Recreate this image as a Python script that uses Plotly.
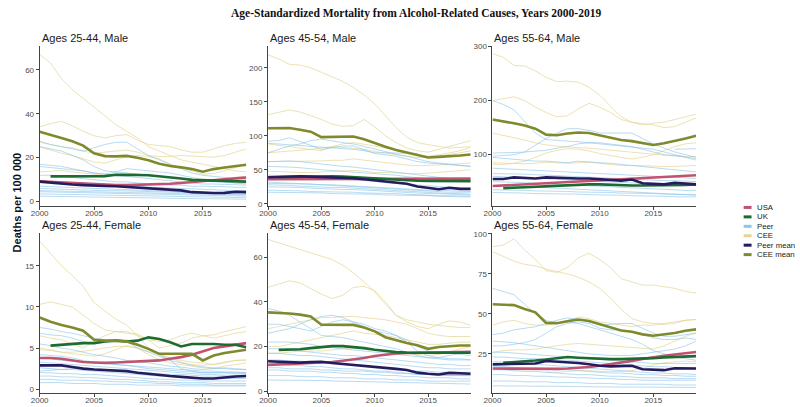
import plotly.graph_objects as go

years = list(range(2000, 2020))
N = None

# ---------------- Ages 25-44, Male ----------------
m2544_usa = [9.3,9.0,8.7,8.4,8.1,7.8,7.6,7.5,7.5,7.6,7.7,7.9,8.1,8.5,9.0,9.4,9.8,10.2,10.6,11.0]
m2544_uk = [N,11.5,11.5,11.6,11.4,11.3,11.6,12.2,12.3,12.1,12.0,11.6,11.1,10.5,9.9,9.8,9.7,9.5,9.3,9.1]
m2544_peer_mean = [9.1,8.6,8.2,7.8,7.5,7.2,7.1,7.0,6.7,6.4,6.0,5.7,5.4,5.1,4.3,4.0,3.9,4.0,4.5,4.3]
m2544_cee_mean = [31.8,30.5,29.0,27.5,25.5,22.0,20.7,20.6,20.8,20.0,18.8,17.2,16.2,15.6,14.8,13.6,14.8,15.5,16.2,16.8]
m2544_cee = [
    [67,63,56,51,47,43,39,35,32,29,25,23,21,19,18,17,16,15,14,13.5],
    [34,35.5,36.5,34.5,32,30,29,30,30.5,28,26,25.5,25,23.5,22.5,22.5,24,25.5,26.5,27],
    [27,26,25,24.5,23,22,22.5,23,23.5,22.5,21,20.5,20.5,21,20.8,20.5,20.2,21,22.5,24],
    [25,23.5,22,21,19.5,18,17.5,19,20.5,21,20.5,19.5,17,15.5,14,12.5,12.8,14,15.5,17],
    [13.5,14,14.2,13.5,13,12.5,12,12.5,13,12.5,12,11.5,11,10.5,10,9.5,9.3,10,11,11.5],
]
m2544_peer = [
    [27.5,26,25,24,23,24.5,26,27,27,24,21,19,17,15,13,12,11.5,11,10.5,10],
    [25,24,23,21,19,16,14,13.5,13,12.5,12,11.5,11,10.5,10,9.5,9,9,8.5,8.5],
    [17,16.5,16,15,14,13,12.5,13.5,15,14.5,14,13.5,13,12,11,10,9.5,9,8.5,8],
    [16,15.5,15,14.5,14,13,12.5,12,11.5,11,10.5,10,9.5,9,8.5,8,8,7.8,7.5,7.5],
    [12,12,11.5,11,10.5,10,9.5,9,9,8.5,8,8,7.5,7.5,7,7,7,6.8,6.5,6.5],
    [9,8.8,8.5,8.2,8,7.8,7.5,7.3,7,6.8,6.5,6.3,6,5.8,5.5,5.3,5.2,5,5,5],
    [6,5.8,5.7,5.5,5.3,5.2,5,5,4.8,4.7,4.5,4.4,4.3,4.2,4,3.9,3.8,3.7,3.6,3.5],
    [5,4.9,4.8,4.7,4.6,4.5,4.4,4.3,4.2,4.1,4,3.9,3.8,3.7,3.5,3.4,3.3,3.2,3.1,3],
    [4.5,4.4,4.3,4.2,4.1,4,3.9,3.8,3.7,3.5,3.4,3.3,3.2,3,2.9,2.8,2.7,2.6,2.5,2.5],
    [3.5,3.4,3.3,3.2,3.1,3,2.9,2.8,2.7,2.6,2.5,2.4,2.3,2.2,2.1,2,2,1.9,1.8,1.8],
    [7,6.8,6.5,6.3,6,5.8,5.6,5.4,5.2,5,4.8,4.6,4.4,4.2,4,3.8,3.6,3.5,3.4,3.3],
    [2.5,2.4,2.3,2.3,2.2,2.1,2,2,1.9,1.8,1.7,1.6,1.5,1.5,1.4,1.3,1.3,1.2,1.2,1.1],
]

# ---------------- Ages 45-54, Male ----------------
m4554_usa = [36,36,36,36.2,36.4,36.5,36.6,36.7,36.8,36.8,36.9,37,37,37,37,37,37,37,37,37]
m4554_uk = [N,39,39.5,40,40,40,40.5,40,39,38,37,36,35,34.5,34,33.5,33.5,33.5,33.3,33.3]
m4554_peer_mean = [39,39.5,41,40.5,40,39.5,39,38.5,37.5,36,34.5,32.5,30.5,29.5,25.5,23.5,21.5,23.5,22,22]
m4554_cee_mean = [111,111,111.5,109,106,98,98.5,99.5,99,95,89,84,79,75,71,68,69,69.5,71,72.5]
m4554_cee = [
    [219,213,205,204,200,193,186,180,171,160,147,130,112,98,90,87,84,82,83,84],
    [131,134,138,135,130,124,117,114,115,124,113,100,90,82,78,76,80,84,88,93],
    [88,86,84,83,80,78,84,88,90,88,85,82,78,75,72,70,72,75,78,83],
    [75,76,78,79,80,82,84,83,82,80,77,74,72,70,68,68,70,72,75,78],
    [62,62,63,63,62,63,64,64,66,64,62,60,58,57,56,56,57,58,59,60],
    [48,47,47,46,46,47,48,48,49,48,46,46,45,44,44,45,46,48,49,50],
]
m4554_peer = [
    [92,93,97,92,86,80,82,85,85,80,74,72,70,66,62,60,59,57,56,55],
    [75,80,85,88,93,95,92,90,88,84,80,76,73,70,66,62,60,58,56,55],
    [89,88,86,85,84,84,83,82,80,78,75,75,75,75,74,N,N,N,N,N],
    [62,63,63,62,60,58,56,55,54,52,50,48,46,44,42,40,38,37,36,35],
    [55,55,54,53,51,50,49,48,47,46,45,44,42,40,38,36,35,34,33,33],
    [32,31,30,30,29,28,28,27,27,26,25,24,23,22,21,20,20,19,19,18],
    [28,28,27,26,25,25,24,24,23,22,21,20,19,18,17,16,16,15,15,14],
    [25,25,24,24,23,22,22,21,21,20,19,18,18,17,16,15,15,14,14,13],
    [20,20,19,19,18,18,18,17,17,16,16,15,15,14,13,13,12,12,12,11],
    [17,17,17,16,16,16,15,15,15,14,14,13,13,12,12,12,11,11,11,10],
    [30,30,30,29,29,28,27,26,25,24,23,22,21,20,19,18,18,17,17,17],
    [42,42,41,41,40,39,38,37,36,34,33,31,30,28,27,26,25,24,23,22],
]

# ---------------- Ages 55-64, Male ----------------
m5564_usa = [42,43,44,45,46,47,48,49,50,51,52,53,55,56,57,58,59,60,61,62]
m5564_uk = [N,38,39,40,41,42,43,44,45,45,45,44,43,43,43,43,44,44,44,45]
m5564_peer_mean = [55,55,58,57,56,58,57,56,56,56,55,53,52,54,47,46,45,48,46,45]
m5564_cee_mean = [165,162,158,154,148,137,136,139,141,140,136,131,127,125,121,118,121,125,130,135]
m5564_cee = [
    [287,280,265,264,255,243,235,236,234,225,210,190,170,160,155,158,160,165,170,175],
    [200,203,207,200,188,178,170,172,185,195,188,178,165,160,158,155,150,152,160,168],
    [140,136,132,127,122,118,116,114,113,112,110,108,106,104,102,100,99,98,97,96],
    [82,82,84,88,95,103,108,111,110,107,102,98,95,92,95,100,108,115,120,122],
    [85,84,83,83,84,86,85,84,85,86,84,82,80,80,80,79,78,78,79,80],
]
m5564_peer = [
    [200,193,183,162,140,128,126,125,124,122,120,118,116,114,112,110,105,100,95,90],
    [97,98,100,105,118,130,140,148,148,145,140,140,140,140,130,120,112,105,100,95],
    [103,103,104,105,106,108,112,115,120,122,122,120,118,115,110,105,100,98,95,93],
    [95,93,91,89,88,88,86,85,88,86,85,84,82,80,78,77,75,72,70,68],
    [75,74,73,72,71,70,69,69,68,67,66,65,64,63,62,61,60,58,57,56],
    [60,59,58,57,56,55,54,53,52,51,50,49,48,47,46,45,44,44,43,43],
    [50,50,49,48,47,46,45,44,43,42,41,40,39,38,37,36,35,35,34,34],
    [42,42,41,40,40,39,38,37,36,35,34,33,32,31,30,29,28,27,26,25],
    [30,30,29,29,28,28,27,27,27,26,26,25,25,24,24,23,23,22,22,22],
    [35,35,34,34,33,33,32,32,31,31,30,30,29,29,28,28,27,27,26,26],
    [65,65,64,64,63,62,61,60,60,59,58,57,56,55,54,53,52,52,51,50],
    [N,N,N,N,N,N,N,N,N,N,N,N,N,N,N,N,N,110,110,111],
]

# ---------------- Ages 25-44, Female ----------------
f2544_usa = [3.8,3.8,3.7,3.5,3.3,3.25,3.2,3.25,3.3,3.35,3.4,3.5,3.7,3.9,4.2,4.6,5.0,5.2,5.4,5.6]
f2544_uk = [N,5.3,5.4,5.5,5.6,5.6,5.8,5.9,5.8,5.9,6.3,6.1,5.7,5.2,5.5,5.5,5.5,5.4,5.4,5.1]
f2544_peer_mean = [2.9,2.9,2.9,2.7,2.5,2.4,2.35,2.3,2.2,2.0,1.85,1.7,1.6,1.5,1.4,1.3,1.3,1.45,1.55,1.6]
f2544_cee_mean = [8.7,8.2,7.8,7.5,7.1,6.0,5.9,5.9,5.8,5.4,4.9,4.3,4.3,4.3,4.3,3.5,4.1,4.4,4.6,4.8]
f2544_cee = [
    [18,16.5,15,13.8,12.5,10.5,9.5,8.5,7.8,6.5,5,4.2,3.8,3.5,3.3,3.2,3,3.2,3.5,3.6],
    [10.3,10.6,10.3,10,9,8,7.2,7,6.8,6.7,6,5,5.3,5.6,6.2,6.5,6.6,7,7.3,7.6],
    [6.5,6.2,6,5.5,5,5.8,6.5,7,7,6.5,6,5.8,6,6.5,6.8,6.5,6.2,6.5,6.8,7],
    [4.8,4.7,4.5,4.5,4.6,4.8,5,5.2,5.2,5,4.6,4.2,3.8,3.3,3,2.9,3,3.3,3.5,3.5],
    [5,4.8,4.5,4.3,4.2,4,4.3,4.8,5.3,5,4.2,3.6,3.2,3,2.8,2.6,2.5,2.8,3,3.2],
]
f2544_peer = [
    [7.5,7.3,7,6.8,6.5,6.2,6,5.9,5.8,5,4.5,4,3.5,3.2,2.9,2.7,2.6,2.5,2.4,2.4],
    [6.8,6.6,6.5,6.2,5.8,5.5,5.7,6,6,5.5,4.8,4.2,3.5,2.5,2.2,2,2,2,1.9,1.9],
    [5.5,5.3,5,4.8,4.5,4.2,4,3.8,3.5,3.3,3.2,3,2.8,2.7,2.5,2.4,2.5,2.6,2.5,2.4],
    [4.2,4.1,4,3.8,3.5,3.3,3.2,3,2.9,2.7,2.5,2.4,2.3,2.2,2.1,2,2,2,2,2],
    [3.3,3.2,3.1,3,2.9,2.8,2.7,2.6,2.5,2.4,2.3,2.2,2.1,2,1.9,1.8,1.8,1.7,1.7,1.7],
    [2.6,2.5,2.4,2.4,2.3,2.2,2.1,2,1.9,1.8,1.7,1.6,1.5,1.5,1.4,1.4,1.3,1.3,1.3,1.3],
    [2,2,1.9,1.9,1.8,1.8,1.7,1.6,1.5,1.4,1.3,1.2,1.2,1.1,1.1,1,1,1,1,1],
    [1.6,1.6,1.5,1.5,1.4,1.4,1.3,1.2,1.2,1.1,1,0.9,0.9,0.8,0.8,0.8,0.7,0.7,0.7,0.7],
    [1.2,1.2,1.1,1.1,1.1,1,1,0.9,0.9,0.8,0.8,0.7,0.7,0.6,0.6,0.6,0.5,0.5,0.5,0.5],
    [0.8,0.8,0.8,0.7,0.7,0.7,0.6,0.6,0.6,0.5,0.5,0.5,0.5,0.4,0.4,0.4,0.4,0.4,0.4,0.4],
    [2.2,2.3,2.4,2.5,2.6,2.5,2.4,2.3,2.2,2.1,2,1.9,1.8,1.8,1.7,1.6,1.6,1.6,1.5,1.5],
    [3.8,3.7,3.5,3.4,3.3,3.2,3.1,3,2.9,2.8,2.7,2.6,2.5,2.4,2.3,2.2,2.2,2.1,2.1,2],
]

# ---------------- Ages 45-54, Female ----------------
f4554_usa = [11.8,12.0,12.2,12.4,12.6,12.8,13.1,13.6,14.2,14.9,15.8,16.4,16.9,17.1,17.2,17.3,17.4,17.5,17.6,17.6]
f4554_uk = [N,18.5,18.5,18.8,19.3,19.8,20.2,20.2,19.9,19.3,18.6,18.0,17.5,17.3,17.3,17.3,17.2,17.2,17.2,17.2]
f4554_peer_mean = [13.4,13.2,13,12.8,13,13.2,12.6,12.2,11.9,11.4,10.8,10.4,10,9.5,8.3,7.8,7.5,8.2,8,7.8]
f4554_cee_mean = [35.3,35.1,34.8,34.3,33.5,29.8,29.7,29.7,29.7,28.5,26.8,24.2,22.8,21.6,20.6,19,19.8,20.3,20.5,20.5]
f4554_cee = [
    [68,66.5,65,63.5,62,60.5,59,56.5,53,49,44.5,39,34,32,31,30,29.5,29,28.5,28.5],
    [46.5,48,49.5,48.5,46,43.5,41.5,43,46.5,47,45,40,34,31,29,28,30,31.5,31,29.5],
    [28,29,30,31,32,33,33,33.5,33.5,33,32.5,32,31,30,28,26,25,24.5,24.5,24.5],
    [20,20,21,22,23,24,25,26,27,26,25.5,25,24,23,22,21,21,21.5,22,22],
    [17,17,17.5,18,18,18,18.5,19,19.5,19,18.5,18,17.5,17,16.5,16,16.5,17.5,19,20],
]
f4554_peer = [
    [37,36,34,31,28,25,24.5,24,23,22,21,20,19,17.5,16,15,14.5,14,14,14],
    [26,27,28,30,32,33.5,34,33,31,30,28,27,25,22,18,16,15,16,17,18],
    [30,30,29,28,27,29,31,32,31,29,27,26,25,23,20,18,17,17,16.5,16],
    [22,22,22,21.5,21,20,19.5,19,18.5,18,17.5,17,16.5,16,15.5,15,15,14.5,14.5,14],
    [17,17,16.5,16,16,15.5,15,14.5,14,13.5,13,12.5,12,11.5,11,10.5,10.5,10,10,10],
    [14,14,13.5,13.5,13,13,12.5,12,12,11.5,11,10.5,10,9.5,9,9,8.5,8.5,8.5,8.5],
    [12,12,11.5,11.5,11,11,10.5,10,10,9.5,9,9,8.5,8,7.5,7.5,7,7,7,7],
    [9.5,9.5,9,9,9,8.5,8.5,8,8,7.5,7.5,7,7,6.5,6.5,6,6,6,5.5,5.5],
    [7,7,7,6.5,6.5,6.5,6,6,6,5.5,5.5,5.5,5,5,5,4.5,4.5,4.5,4.5,4.5],
    [5,5,5,5,4.8,4.8,4.6,4.5,4.4,4.2,4,4,3.8,3.6,3.5,3.4,3.3,3.2,3.2,3.2],
    [10.5,10.5,10,10,10,9.5,9.5,9,9,9,8.5,8.5,8,8,7.5,7.5,7.5,7,7,7],
    [19,19,18.5,18,17.5,17,16.5,16,16,15.5,15,14.5,14,13.5,13,12.5,12,12,11.5,11.5],
]

# ---------------- Ages 55-64, Female ----------------
f5564_usa = [15.8,15.7,15.6,15.5,15.5,15.5,15.6,15.8,16.2,16.8,17.6,18.5,19.5,20.6,21.8,23,23.8,24.6,25.4,26.2]
f5564_uk = [N,19.4,19.8,20.3,20.8,21.5,22.3,23,22.6,22.2,21.8,21.7,21.7,21.8,22,22.3,22.8,23.1,23.4,23.6]
f5564_peer_mean = [18.4,18.5,18.6,18.7,19,20.5,20.2,19.9,19.3,18.5,17.6,17.2,17.2,17.6,15.4,15,14.8,16,16.1,15.8]
f5564_cee_mean = [56,55.6,55.5,53,51,44.3,44.2,45.4,46.5,45.5,43.5,41.5,39.6,38.8,37.2,36.3,37,38,39.5,40.3]
f5564_cee = [
    [92,93,97,90,84,77,76,79,85,88,84,79,72,70,68,68,67,66,64,63],
    [89,86,83,81,80,78,76.5,75,73,70,66,60,53,47,45,44,44,45,46,46.5],
    [43,45,46,44,43,43,44,46,48,47,45,44,43,42,43,43,43.5,44,46,46.5],
    [26,27,27.5,27.5,28,29,30,31,31.5,31,30.5,30,29.5,29,28.5,28,30,33,36,38],
    [N,N,N,N,N,13.5,13.5,14,14.5,14.5,14,14,14,14.5,16,18,19.5,20,20.5,20],
]
f5564_peer = [
    [66,64,62,56,50,46,44,45,44,42,40,38,36,34,31,27,25,23,22,21],
    [37,38,40,41,42,44,46,47.5,46.5,45,43,43.5,44,44,41,38,36,36,37,38],
    [30,30,31,32,34,38,42,44,45,44,41,40,40,39,37,35,34,34,35,34],
    [33,32.5,32,31,30,29,28,27,26,25,24.5,24,24,24,25,26,27,28,30,33],
    [26,26,25.5,25,24.5,24,23.5,23,22.5,22,21.5,21,20.5,20,19.5,19,19,19,19,19],
    [20,20,19.5,19,18.5,18,17.5,17,16.5,16,15.5,15,14.5,14,13.5,13,13,12.5,12.5,12],
    [15,15,14.5,14,14,13.5,13,12.5,12,12,11.5,11,11,10.5,10,10,10,9.5,9.5,9.5],
    [12,12,11.5,11.5,11,11,10.5,10.5,10,10,9.5,9.5,9,9,8.5,8.5,8.5,8.5,8.5,8.5],
    [8,8,8,7.5,7.5,7.5,7,7,7,6.5,6.5,6.5,6,6,6,6,6,5.5,5.5,5.5],
    [5,5,5,5,5,4.8,4.8,4.6,4.6,4.4,4.4,4.2,4.2,4,4,4,4,4,4,4],
    [17,17,16.5,16,16,15.5,15,15,14.5,14,13.5,13,13,12.5,12,12,11.5,11.5,11,11],
    [23,23,22.5,22,22,21.5,21,21,20.5,20,19.5,19,18.5,18,17.5,17,17,16.5,16.5,16],
]

panel_titles = ["Ages 25-44, Male", "Ages 45-54, Male", "Ages 55-64, Male",
                "Ages 25-44, Female", "Ages 45-54, Female", "Ages 55-64, Female"]
y_tickvals = [[0, 20, 40, 60], [0, 50, 100, 150, 200], [100, 200, 300],
              [0, 5, 10, 15], [0, 20, 40, 60], [25, 50, 75, 100]]
y_ranges = [[-2.2, 70.7], [-3.9, 231.6], [4.2, 300.5],
            [-0.48, 18.97], [-0.9, 70.9], [0.4, 100.6]]
x_tickvals = [2000, 2005, 2010, 2015]
legend_labels = ["USA", "UK", "Peer", "CEE", "Peer mean", "CEE mean"]

panels = [
    (m2544_usa, m2544_uk, m2544_peer_mean, m2544_cee_mean, m2544_peer, m2544_cee),
    (m4554_usa, m4554_uk, m4554_peer_mean, m4554_cee_mean, m4554_peer, m4554_cee),
    (m5564_usa, m5564_uk, m5564_peer_mean, m5564_cee_mean, m5564_peer, m5564_cee),
    (f2544_usa, f2544_uk, f2544_peer_mean, f2544_cee_mean, f2544_peer, f2544_cee),
    (f4554_usa, f4554_uk, f4554_peer_mean, f4554_cee_mean, f4554_peer, f4554_cee),
    (f5564_usa, f5564_uk, f5564_peer_mean, f5564_cee_mean, f5564_peer, f5564_cee),
]

C_USA = "#c25370"
C_UK = "#1e6b30"
C_PEER = "rgba(125,190,230,0.55)"
C_CEE = "rgba(226,210,140,0.65)"
C_PEERM = "#241c5e"
C_CEEM = "#7e8a2c"
legend_colors = [C_USA, C_UK, "#8ec6ea", "#e4d495", C_PEERM, C_CEEM]

W, H = 800, 407
col_px = [(31, 240), (262, 467), (489, 695)]
row_px = [(43, 206), (233, 396)]

def px_x(p):
    return p / W

def px_y(p):
    return 1 - p / H

fig = go.Figure()
layout = {}
annotations = []
FONT = "Liberation Sans, Arial, sans-serif"

for i, (usa, uk, pm, cm, peer, cee) in enumerate(panels):
    r, c = divmod(i, 3)
    n = i + 1
    xa = "x" if n == 1 else f"x{n}"
    ya = "y" if n == 1 else f"y{n}"
    for s in cee:
        fig.add_trace(go.Scatter(x=years, y=s, mode="lines", xaxis=xa, yaxis=ya,
                                 line=dict(color=C_CEE, width=1), showlegend=False,
                                 hoverinfo="skip"))
    for s in peer:
        fig.add_trace(go.Scatter(x=years, y=s, mode="lines", xaxis=xa, yaxis=ya,
                                 line=dict(color=C_PEER, width=1), showlegend=False,
                                 hoverinfo="skip"))
    for s, col in [(usa, C_USA), (uk, C_UK), (pm, C_PEERM), (cm, C_CEEM)]:
        fig.add_trace(go.Scatter(x=years, y=s, mode="lines", xaxis=xa, yaxis=ya,
                                 line=dict(color=col, width=2.6), showlegend=False))
    x0, x1 = col_px[c]
    y0, y1 = row_px[r]
    kx = "xaxis" if n == 1 else f"xaxis{n}"
    ky = "yaxis" if n == 1 else f"yaxis{n}"
    layout[kx] = dict(domain=[px_x(x0), px_x(x1)], anchor=ya, range=[2000, 2019],
                      tickvals=x_tickvals, showgrid=False, zeroline=False,
                      showline=True, linecolor="#444", linewidth=1,
                      ticks="outside", ticklen=3, tickcolor="#444",
                      ticklabelstandoff=-4,
                      tickfont=dict(size=8, color="#4d4d4d", family=FONT))
    layout[ky] = dict(domain=[px_y(y1), px_y(y0)], anchor=xa, range=y_ranges[i],
                      tickvals=y_tickvals[i], showgrid=False, zeroline=False,
                      showline=True, linecolor="#444", linewidth=1,
                      ticks="outside", ticklen=3, tickcolor="#444",
                      tickfont=dict(size=8, color="#4d4d4d", family=FONT))
    annotations.append(dict(text=panel_titles[i], x=px_x(x0), y=px_y(y0 - 8),
                            xref="paper", yref="paper", xanchor="left",
                            yanchor="middle", showarrow=False,
                            font=dict(size=11, color="#1a1a1a", family=FONT)))

# Title
annotations.append(dict(text="<b>Age-Standardized Mortality from Alcohol-Related Causes, Years 2000-2019</b>",
                        x=px_x(412), y=px_y(10), xref="paper", yref="paper",
                        xanchor="center", yanchor="middle", showarrow=False,
                        font=dict(size=11.5, color="#111", family="Liberation Serif, Times New Roman, serif")))
# Y axis label
annotations.append(dict(text="<b>Deaths per 100 000</b>", x=px_x(8), y=px_y(202),
                        xref="paper", yref="paper", xanchor="center", yanchor="middle",
                        textangle=-90, showarrow=False,
                        font=dict(size=11, color="#111", family=FONT)))

# Legend (manual, compact)
shapes = []
leg_y = [207, 216.6, 226.2, 235.8, 245.4, 255]
for lab, col, ly in zip(legend_labels, legend_colors, leg_y):
    shapes.append(dict(type="line", xref="paper", yref="paper",
                       x0=px_x(743), x1=px_x(751), y0=px_y(ly), y1=px_y(ly),
                       line=dict(color=col, width=3)))
    annotations.append(dict(text=lab, x=px_x(754), y=px_y(ly), xref="paper", yref="paper",
                            xanchor="left", yanchor="middle", showarrow=False,
                            font=dict(size=7.8, color="#1a1a1a", family=FONT)))

fig.update_layout(**layout)
fig.update_layout(width=W, height=H, margin=dict(l=0, r=0, t=0, b=0),
                  paper_bgcolor="white", plot_bgcolor="white",
                  showlegend=False, annotations=annotations, shapes=shapes)

fig.write_html("out.html", config={"displayModeBar": False},
               post_script="document.body.style.margin='0';document.body.style.overflow='hidden';")
